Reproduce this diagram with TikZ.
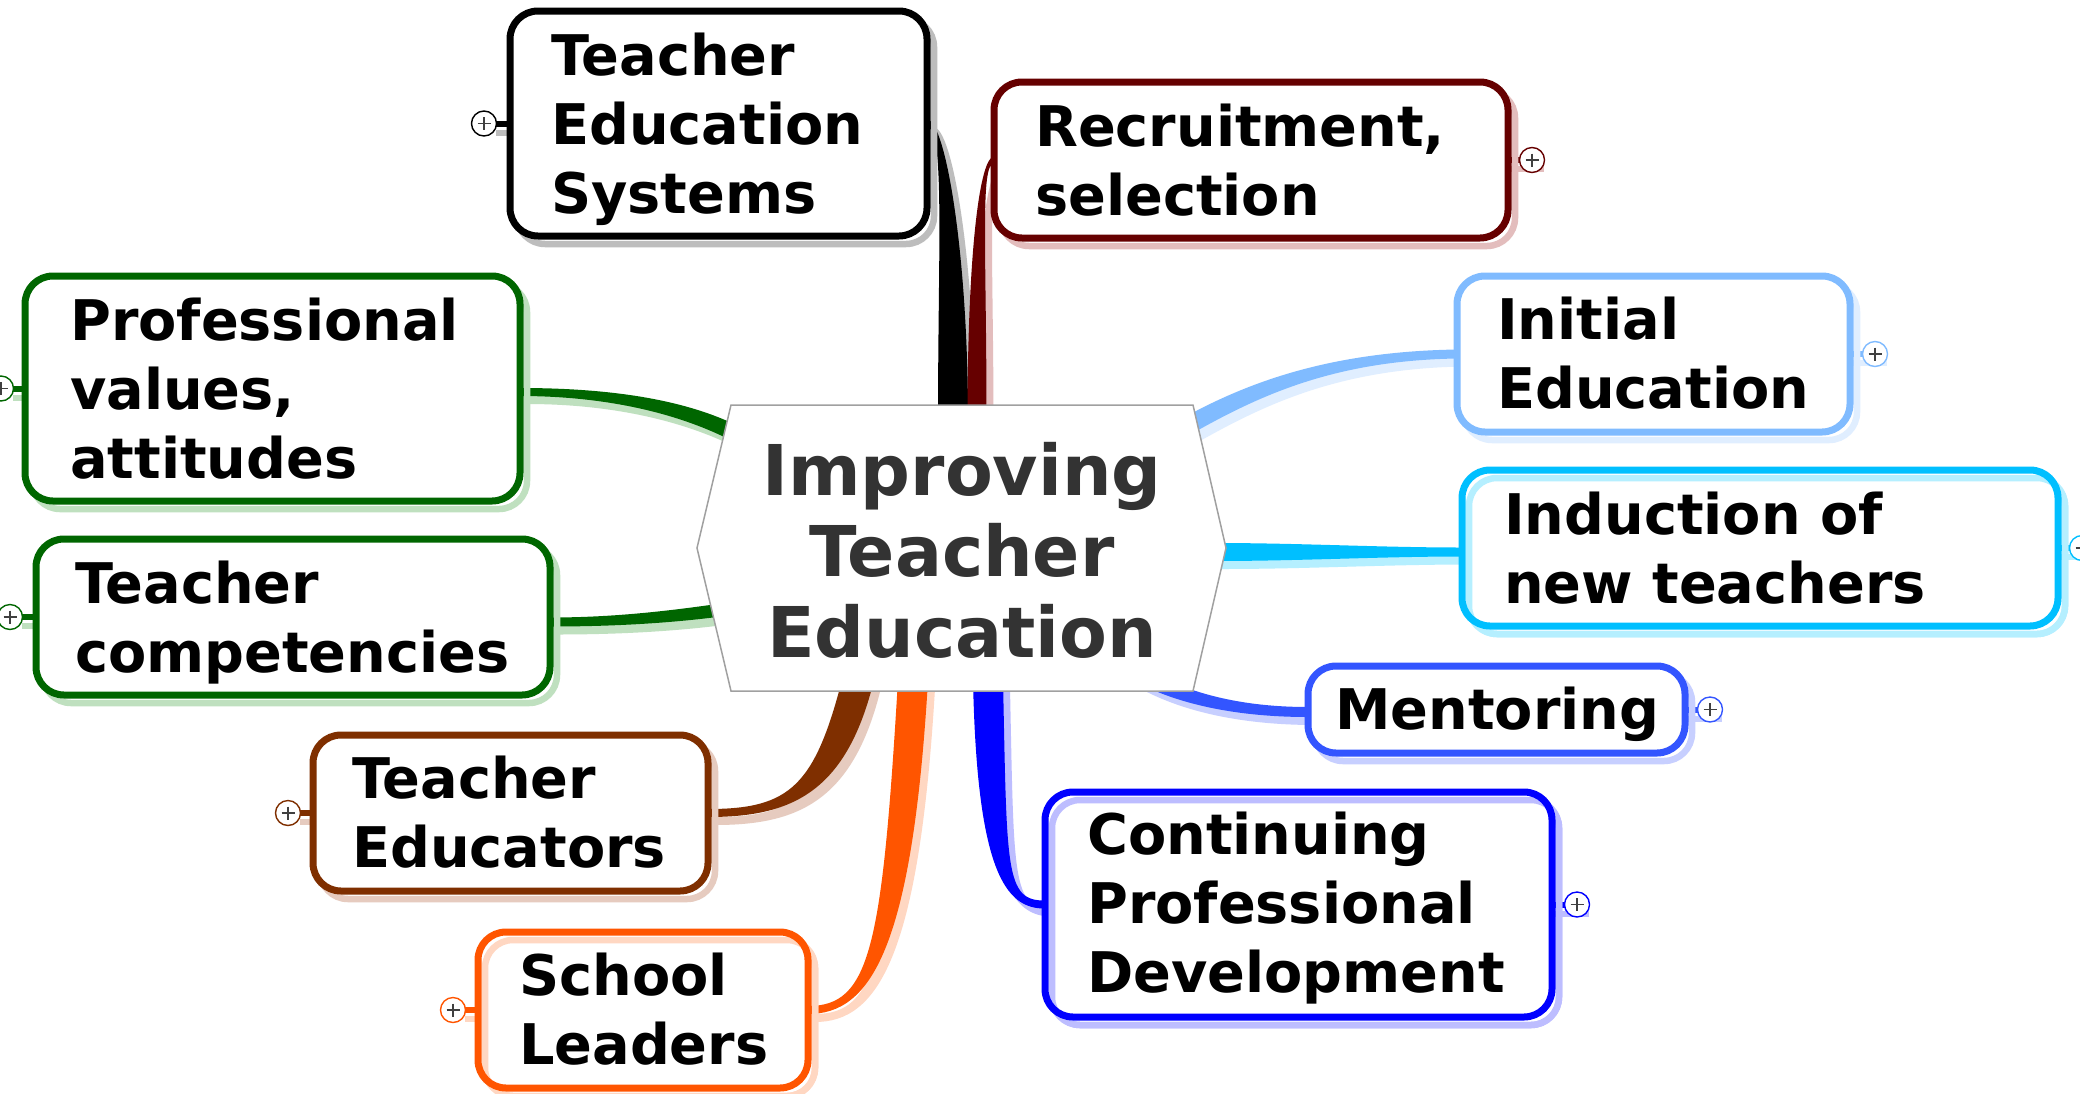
\documentclass[tikz,border=0pt]{standalone}
\usepackage{fontspec}
\setmainfont{DejaVu Sans}[FakeStretch=0.995]
\usetikzlibrary{calc}
\definecolor{cTES}{HTML}{000000}\definecolor{sTES}{HTML}{BDBDBD}
\definecolor{cREC}{HTML}{660000}\definecolor{sREC}{HTML}{E3BDBD}
\definecolor{cINI}{HTML}{80BBFF}\definecolor{sINI}{HTML}{E0EEFF}
\definecolor{cIND}{HTML}{00BFFF}\definecolor{sIND}{HTML}{B5EFFF}
\definecolor{cMEN}{HTML}{3355FF}\definecolor{sMEN}{HTML}{C7CFFF}
\definecolor{cCPD}{HTML}{0000FF}\definecolor{sCPD}{HTML}{BDBDFF}
\definecolor{cSCH}{HTML}{FF5500}\definecolor{sSCH}{HTML}{FFD7C2}
\definecolor{cEDU}{HTML}{7F2F00}\definecolor{sEDU}{HTML}{E6CBBF}
\definecolor{cGRN}{HTML}{006600}\definecolor{sGRN}{HTML}{BFE0BF}
\definecolor{cHub}{HTML}{333333}\definecolor{cHubLine}{HTML}{A0A0A0}
\definecolor{cPlus}{HTML}{404040}
% tapered connector: fill, shadow, start, c1, c2, end, half width start, half width end
\newcommand\taper[8]{%
  \coordinate (tS) at #3; \coordinate (tA) at #4; \coordinate (tB) at #5; \coordinate (tE) at #6;
  \coordinate (tSp) at ($(tS)!#7!90:(tA)$);
  \coordinate (tSm) at ($(tS)!#7!-90:(tA)$);
  \coordinate (tEp) at ($(tE)!#8!-90:(tB)$);
  \coordinate (tEm) at ($(tE)!#8!90:(tB)$);
  \fill[#2, transform canvas={shift={(7,8)}}] (tSp) .. controls ($(tA)+(tSp)-(tS)$) and ($(tB)+(tEp)-(tE)$) .. (tEp) -- (tEm) .. controls ($(tB)+(tEm)-(tE)$) and ($(tA)+(tSm)-(tS)$) .. (tSm) -- cycle;
  \fill[#1] (tSp) .. controls ($(tA)+(tSp)-(tS)$) and ($(tB)+(tEp)-(tE)$) .. (tEp) -- (tEm) .. controls ($(tB)+(tEm)-(tE)$) and ($(tA)+(tSm)-(tS)$) .. (tSm) -- cycle;
}
\newcommand\topicbox[3]{%
  \draw[#3, line width=6.5, rounded corners=28] ($(#1.north west)+(7,8)$) rectangle ($(#1.south east)+(7,8)$);
  \draw[#2, fill=white, line width=7, rounded corners=28] (#1.north west) rectangle (#1.south east);
}
\newcommand\topicboxin[3]{%
  \draw[#3, line width=6.5, rounded corners=28] ($(#1.north west)+(7,8)$) rectangle ($(#1.south east)+(7,8)$);
  \fill[white, rounded corners=28] (#1.north west) rectangle (#1.south east);
  \draw[#3, line width=6.5, rounded corners=28] ($(#1.north west)+(7,8)$) rectangle ($(#1.south east)+(7,8)$);
  \draw[#2, line width=7, rounded corners=28] (#1.north west) rectangle (#1.south east);
}
% plus icon: box name, side anchor, offset, colour, shadow colour
\newcommand\plusicon[5]{%
  \coordinate (pc) at ($(#1.#2)+(#3,0)$);
  \draw[#5, line width=6] ($(#1.#2)+(0,9)$) -- ($(pc)+(12,9)$);
  \draw[#4, line width=6] (#1.#2) -- (pc);
  \node[circle, draw=#4, fill=white, line width=1.4, minimum size=25, inner sep=0] (#1-plus) at (pc) {};
  \draw[cPlus, line width=1.5] ($(pc)+(-6.5,0)$) -- ($(pc)+(6.5,0)$) ($(pc)+(0,-6.5)$) -- ($(pc)+(0,6.5)$);
}
\tikzset{
  boxnode/.style={draw=none, inner sep=0, outer sep=0, rectangle, anchor=north west},
  ttext/.style={anchor=north west, inner sep=0, align=left, text=black,
    font=\bfseries\fontsize{56}{69}\selectfont},
}
\begin{document}
\begin{tikzpicture}[x=1pt, y=-1pt]
\useasboundingbox (0,0) rectangle (2080,1093);
\clip (0,0) rectangle (2080,1093);
\fill[white] (0,0) rectangle (2080,1093);

% anchor nodes
\node[draw=none, inner sep=0, outer sep=0, minimum width=462, minimum height=286] (hub) at (962,548) {};
\node[boxnode, minimum width=417, minimum height=225] (tes) at (510,11) {};
\node[boxnode, minimum width=514, minimum height=156] (rec) at (994,82) {};
\node[boxnode, minimum width=393, minimum height=156] (ini) at (1457,276) {};
\node[boxnode, minimum width=596, minimum height=156] (ind) at (1462,470) {};
\node[boxnode, minimum width=377, minimum height=87] (men) at (1308,666) {};
\node[boxnode, minimum width=507, minimum height=225] (cpd) at (1045,792) {};
\node[boxnode, minimum width=330, minimum height=156] (sch) at (478,932) {};
\node[boxnode, minimum width=395, minimum height=156] (edu) at (313,735) {};
\node[boxnode, minimum width=514, minimum height=156] (com) at (36,539) {};
\node[boxnode, minimum width=495, minimum height=225] (pro) at (25,276) {};

% connectors
\taper{cTES}{sTES}{($(hub)+(-9,-128)$)}{(953,250)}{(945,123)}{(tes.east)}{15pt}{4pt}
\taper{cREC}{sREC}{($(hub)+(15,-128)$)}{(977,250)}{(980,160)}{(rec.west)}{9.5pt}{3.5pt}
\taper{cINI}{sINI}{($(hub)+(218,-118)$)}{(1250,390)}{(1330,356)}{(ini.west)}{9pt}{4.5pt}
\taper{cIND}{sIND}{($(hub)+(253,4)$)}{(1300,552)}{(1380,552)}{($(ind.west)+(0,4)$)}{9pt}{4.5pt}
\taper{cMEN}{sMEN}{($(hub)+(148,107)$)}{(1160,695)}{(1230,712)}{($(men.west)+(0,2.5)$)}{8.5pt}{5pt}
\taper{cCPD}{sCPD}{($(hub)+(26,132)$)}{(992,870)}{(1005,905)}{(cpd.west)}{15pt}{4pt}
\taper{cSCH}{sSCH}{($(hub)+(-49,132)$)}{(897,950)}{(870,1010)}{(sch.east)}{15pt}{4pt}
\taper{cEDU}{sEDU}{($(hub)+(-104,132)$)}{(830,790)}{(790,813)}{(edu.east)}{15.5pt}{4pt}
\taper{cGRN}{sGRN}{($(hub)+(-227,60)$)}{(680,616)}{(620,622)}{($(com.east)+(0,5)$)}{6.5pt}{4.5pt}
\taper{cGRN}{sGRN}{($(hub)+(-222,-112)$)}{(680,404)}{(600,392)}{($(pro.east)+(0,3.5)$)}{8pt}{4pt}

% central hexagon
\draw[cHubLine, fill=white, line width=1.5] (hub.north west) -- (hub.north east) -- ($(hub.east)+(33,0)$) -- (hub.south east) -- (hub.south west) -- ($(hub.west)+(-34,0)$) -- cycle;
\node[font=\bfseries\fontsize{70}{81}\selectfont, text=cHub, align=center, anchor=north, inner sep=0] (hubT) at (962,440) {\rule{0pt}{55pt}Improving\\Teacher\\Education};

% plus icons
\plusicon{tes}{west}{-26}{cTES}{sTES}
\plusicon{rec}{east}{24}{cREC}{sREC}
\plusicon{ini}{east}{25}{cINI}{sINI}
\plusicon{ind}{east}{24}{cIND}{sIND}
\plusicon{men}{east}{25}{cMEN}{sMEN}
\plusicon{cpd}{east}{25}{cCPD}{sCPD}
\plusicon{sch}{west}{-25}{cSCH}{sSCH}
\plusicon{edu}{west}{-25}{cEDU}{sEDU}
\plusicon{com}{west}{-26}{cGRN}{sGRN}
\plusicon{pro}{west}{-24}{cGRN}{sGRN}

% boxes
\topicbox{tes}{cTES}{sTES}
\topicbox{rec}{cREC}{sREC}
\topicbox{ini}{cINI}{sINI}
\topicboxin{ind}{cIND}{sIND}
\topicbox{men}{cMEN}{sMEN}
\topicboxin{cpd}{cCPD}{sCPD}
\topicboxin{sch}{cSCH}{sSCH}
\topicbox{edu}{cEDU}{sEDU}
\topicbox{com}{cGRN}{sGRN}
\topicbox{pro}{cGRN}{sGRN}

% texts
\node[ttext] (tesT) at (551,31) {\rule{0pt}{44pt}Teacher\\Education\\Systems};
\node[ttext] (recT) at (1035,102) {\rule{0pt}{44pt}Recruitment,\\selection};
\node[ttext] (iniT) at (1497,295) {\rule{0pt}{44pt}Initial\\Education};
\node[ttext] (indT) at (1504,490) {\rule{0pt}{44pt}Induction of\\new teachers};
\node[ttext] (menT) at (1335,685) {\rule{0pt}{44pt}Mentoring};
\node[ttext] (cpdT) at (1087,810) {\rule{0pt}{44pt}Continuing\\Professional\\Development};
\node[ttext] (schT) at (519,951) {\rule{0pt}{44pt}School\\Leaders};
\node[ttext] (eduT) at (352,754) {\rule{0pt}{44pt}Teacher\\Educators};
\node[ttext] (comT) at (75,559) {\rule{0pt}{44pt}Teacher\\competencies};
\node[ttext] (proT) at (70,296) {\rule{0pt}{44pt}Professional\\values,\\attitudes};
\end{tikzpicture}
\end{document}
